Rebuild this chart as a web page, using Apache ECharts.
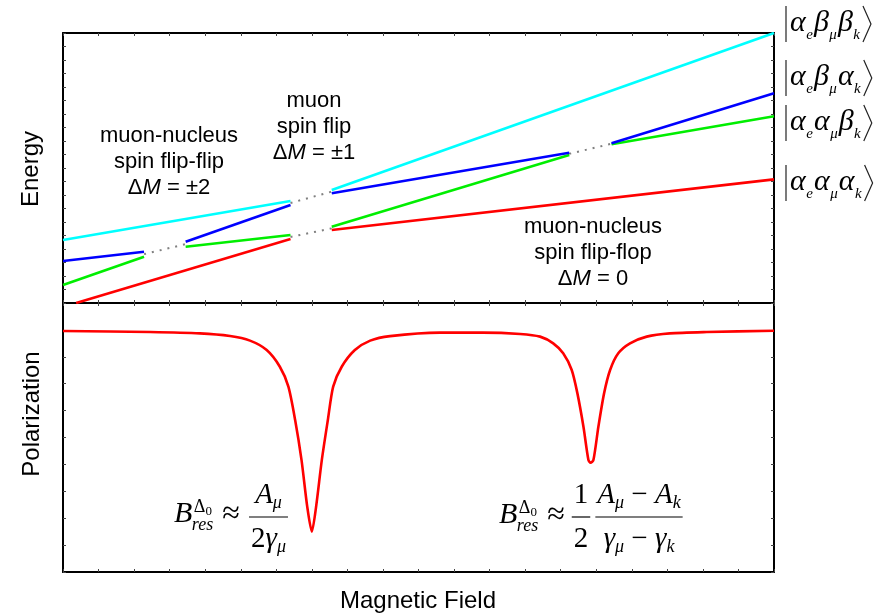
<!DOCTYPE html>
<html>
<head>
<meta charset="utf-8">
<script src="https://cdn.jsdelivr.net/npm/echarts@6/dist/echarts.min.js"></script>
<style>
  html, body { margin: 0; padding: 0; background: #fff; }
  #chart { width: 881px; height: 616px; }
</style>
</head>
<body>
<div id="chart"></div>
<script>
// Field runs 0..20 (arb. units), energy 0..20, polarization 0..10.
// Each energy level is a list of straight segments; gaps are the anticrossings.
const levelCyan  = [[[0, 4.67], [6.40, 7.56]], [[7.56, 8.37], [20, 20]]];
const levelBlue  = [[[0, 3.11], [2.28, 3.80]], [[3.45, 4.54], [6.40, 7.26]],
                    [[7.56, 8.13], [14.24, 11.13]], [[15.43, 11.83], [20, 15.53]]];
const levelGreen = [[[0, 1.33], [2.28, 3.43]], [[3.45, 4.17], [6.40, 5.04]],
                    [[7.56, 5.65], [14.24, 10.96]], [[15.43, 11.76], [20, 13.83]]];
const levelRed   = [[[0.37, 0], [6.40, 4.74]], [[7.56, 5.41], [20, 9.16]]];
// Dotted diabatic continuations through the level anticrossings
const crossings  = [[[2.28, 3.62], [3.45, 4.36]], [[6.40, 7.41], [7.56, 8.25]],
                    [[6.40, 4.89], [7.56, 5.53]], [[14.24, 11.05], [15.43, 11.80]]];
// Muon polarization vs. field, with the two level-crossing resonances
const polarization = [
  [0, 8.96], [2.45, 8.92], [3.85, 8.87], [4.70, 8.77], [5.26, 8.60], [5.73, 8.25],
  [6.10, 7.63], [6.34, 6.89], [6.53, 5.65], [6.71, 4.16], [6.87, 2.43], [7.00, 1.50],
  [7.12, 2.43], [7.28, 4.16], [7.45, 5.65], [7.60, 6.89], [7.84, 7.63], [8.21, 8.25],
  [8.64, 8.60], [9.20, 8.77], [10.60, 8.90], [11.80, 8.90], [12.86, 8.85], [13.42, 8.75],
  [13.79, 8.50], [14.07, 8.13], [14.31, 7.51], [14.47, 6.64], [14.64, 5.40], [14.78, 4.16],
  [14.84, 4.06], [14.92, 4.16], [15.06, 5.40], [15.22, 6.64], [15.39, 7.51], [15.62, 8.13],
  [15.95, 8.50], [16.42, 8.75], [17.07, 8.87], [18.11, 8.92], [20, 8.97]
];
const stateLabels = [
  ['α', 'e', 'β', 'μ', 'β', 'k'],
  ['α', 'e', 'β', 'μ', 'α', 'k'],
  ['α', 'e', 'α', 'μ', 'β', 'k'],
  ['α', 'e', 'α', 'μ', 'α', 'k']
];
const transitionNotes = [
  { lines: ['muon-nucleus', 'spin flip-flip'], dm: '±2' },
  { lines: ['muon', 'spin flip'], dm: '±1' },
  { lines: ['muon-nucleus', 'spin flip-flop'], dm: '0' }
];

const chart = echarts.init(document.getElementById('chart'), null, { renderer: 'canvas' });

const SERIF = 'Liberation Serif';
const SANS = 'Liberation Sans';
const measureCtx = document.createElement('canvas').getContext('2d');
function fontStr(size, italic, family) {
  return (italic ? 'italic ' : '') + size + 'px "' + (family || SERIF) + '"';
}
function textWidth(t, size, italic, family) {
  measureCtx.font = fontStr(size, italic, family);
  return measureCtx.measureText(t).width;
}
// A glyph placed with its alphabetic baseline at `base`
function glyph(t, x, base, size, italic, align) {
  return {
    type: 'text', x: x, y: base - 0.34 * size, silent: true,
    style: {
      text: t, fontSize: size, fontFamily: SERIF, fontStyle: italic ? 'italic' : 'normal',
      fill: '#000', align: align || 'left', verticalAlign: 'middle',
      textAlign: align || 'left', textVerticalAlign: 'middle'
    }
  };
}
// Lay out a row of runs {t, s, it, dy, pre, kern} from x along a baseline
function row(runs, x, base, out) {
  runs.forEach(r => {
    x += (r.pre || 0);
    out.push(glyph(r.t, x, base + (r.dy || 0), r.s, r.it));
    x += textWidth(r.t, r.s, r.it) + (r.kern || 0);
  });
  return x;
}
function rowWidth(runs) {
  return runs.reduce((w, r) => w + (r.pre || 0) + textWidth(r.t, r.s, r.it) + (r.kern || 0), 0);
}
function hline(x1, x2, y) {
  return { type: 'line', silent: true, shape: { x1: x1, y1: y, x2: x2, y2: y },
           style: { stroke: '#000', lineWidth: 1.2 } };
}
function fraction(num, den, cx, barY, out) {
  const wn = rowWidth(num), wd = rowWidth(den);
  const w = Math.max(wn, wd) + 4;
  out.push(hline(cx - w / 2, cx + w / 2, barY));
  row(num, cx - wn / 2, barY - 12, out);
  row(den, cx - wd / 2, barY + 32, out);
}
// B_res^{Δ0} ≈ ...
function resonanceLHS(x, base, out) {
  out.push(glyph('B', x, base, 30, true));
  const sx = x + textWidth('B', 30, true) + 0.5;
  out.push(glyph('Δ', sx + 1, base - 11, 18, false));
  out.push(glyph('0', sx + 1 + textWidth('Δ', 18, false), base - 8, 13, false));
  out.push(glyph('res', sx - 1, base + 7, 18, true));
  const ax = sx + Math.max(textWidth('Δ', 18) + textWidth('0', 13), textWidth('res', 18, true)) + 8;
  out.push(glyph('≈', ax, base + 1, 32, false));
  return ax + textWidth('≈', 32, false);
}

const graphics = [];

// Axis titles
function axisTitle(t, x, y, rot) {
  graphics.push({
    type: 'text', x: x, y: y, rotation: rot, silent: true,
    style: { text: t, fontSize: 24, fontFamily: SANS, fill: '#000',
             align: 'center', verticalAlign: 'middle', textAlign: 'center', textVerticalAlign: 'middle' }
  });
}
axisTitle('Energy', 31, 169, Math.PI / 2);
axisTitle('Polarization', 32, 414, Math.PI / 2);
axisTitle('Magnetic Field', 418, 601, 0);

// Transition annotations in the energy panel
const notePos = [[169, 162], [314, 127], [593, 253]];
transitionNotes.forEach((n, i) => {
  graphics.push({
    type: 'text', x: notePos[i][0], y: notePos[i][1], silent: true,
    style: {
      text: n.lines.join('\n') + '\nΔ{m|M} = ' + n.dm,
      fontSize: 22, fontFamily: SANS, fill: '#000', lineHeight: 26,
      align: 'center', verticalAlign: 'middle', textAlign: 'center', textVerticalAlign: 'middle',
      rich: { m: { fontSize: 22, fontFamily: SANS, fontStyle: 'italic', lineHeight: 26 } }
    }
  });
});

// State kets at the high-field end of each level
const ketBase = [33, 87, 132, 192];
stateLabels.forEach((s, i) => {
  const b = ketBase[i];
  const x0 = 786;
  const top = b - 27, bot = b + 9;
  graphics.push({ type: 'line', silent: true, shape: { x1: x0, y1: top, x2: x0, y2: bot },
                  style: { stroke: '#222', lineWidth: 1.2 } });
  const runs = [];
  for (let k = 0; k < s.length; k += 2) {
    runs.push({ t: s[k], s: 30, it: true });
    runs.push({ t: s[k + 1], s: 15, it: true, dy: 7, pre: 0.5, kern: 1 });
  }
  const xe = row(runs, x0 + 4, b, graphics);
  const xb = Math.min(xe + 2, 871);
  graphics.push({ type: 'polyline', silent: true,
                  shape: { points: [[xb, top], [xb + 8, (top + bot) / 2], [xb, bot]] },
                  style: { stroke: '#222', lineWidth: 1.2, fill: null } });
});

// Resonance field formulas in the polarization panel
resonanceLHS(174, 524, graphics);
fraction([{ t: 'A', s: 29, it: true }, { t: 'μ', s: 18, it: true, dy: 4 }],
         [{ t: '2', s: 29, it: false }, { t: 'γ', s: 29, it: true }, { t: 'μ', s: 18, it: true, dy: 4 }],
         268.5, 517, graphics);
resonanceLHS(499, 525, graphics);
fraction([{ t: '1', s: 29, it: false }], [{ t: '2', s: 29, it: false }], 581, 517, graphics);
fraction([{ t: 'A', s: 29, it: true }, { t: 'μ', s: 18, it: true, dy: 4 }, { t: ' − ', s: 29, it: false },
          { t: 'A', s: 29, it: true }, { t: 'k', s: 18, it: true, dy: 4 }],
         [{ t: 'γ', s: 29, it: true }, { t: 'μ', s: 18, it: true, dy: 4 }, { t: ' − ', s: 29, it: false },
          { t: 'γ', s: 29, it: true }, { t: 'k', s: 18, it: true, dy: 4 }],
         639, 517, graphics);

function frameAxis(grid, pos, max) {
  return {
    type: 'value', gridIndex: grid, position: pos, min: 0, max: max, interval: 1,
    axisLine: { show: true, onZero: false, lineStyle: { color: '#000', width: 2 } },
    axisTick: { show: true, inside: true, length: 3, lineStyle: { color: '#444', width: 1 } },
    axisLabel: { show: false }, splitLine: { show: false }
  };
}

function segSeries(segs, lineStyle, xi, yi) {
  return segs.map(seg => ({
    type: 'line', xAxisIndex: xi, yAxisIndex: yi, data: seg, symbol: 'none',
    lineStyle: lineStyle, clip: true, silent: true
  }));
}

const series = [].concat(
  segSeries(crossings, { color: '#808080', width: 2, type: [2, 6] }, 0, 0),
  segSeries(levelRed, { color: '#ff0000', width: 2.6 }, 0, 0),
  segSeries(levelGreen, { color: '#00ee00', width: 2.6 }, 0, 0),
  segSeries(levelBlue, { color: '#0000ff', width: 2.6 }, 0, 0),
  segSeries(levelCyan, { color: '#00ffff', width: 2.6 }, 0, 0),
  [{
    type: 'line', xAxisIndex: 2, yAxisIndex: 2, data: polarization, symbol: 'none', smooth: 0.25,
    lineStyle: { color: '#ff0000', width: 2.6 }, silent: true
  }]
);

chart.setOption({
  animation: false,
  backgroundColor: '#fff',
  grid: [
    { left: 63, top: 33, width: 711, height: 270 },
    { left: 63, top: 303, width: 711, height: 269 }
  ],
  xAxis: [
    frameAxis(0, 'bottom', 20), frameAxis(0, 'top', 20),
    frameAxis(1, 'bottom', 20), frameAxis(1, 'top', 20)
  ],
  yAxis: [
    frameAxis(0, 'left', 20), frameAxis(0, 'right', 20),
    frameAxis(1, 'left', 10), frameAxis(1, 'right', 10)
  ],
  series: series,
  graphic: graphics
});
</script>
</body>
</html>
